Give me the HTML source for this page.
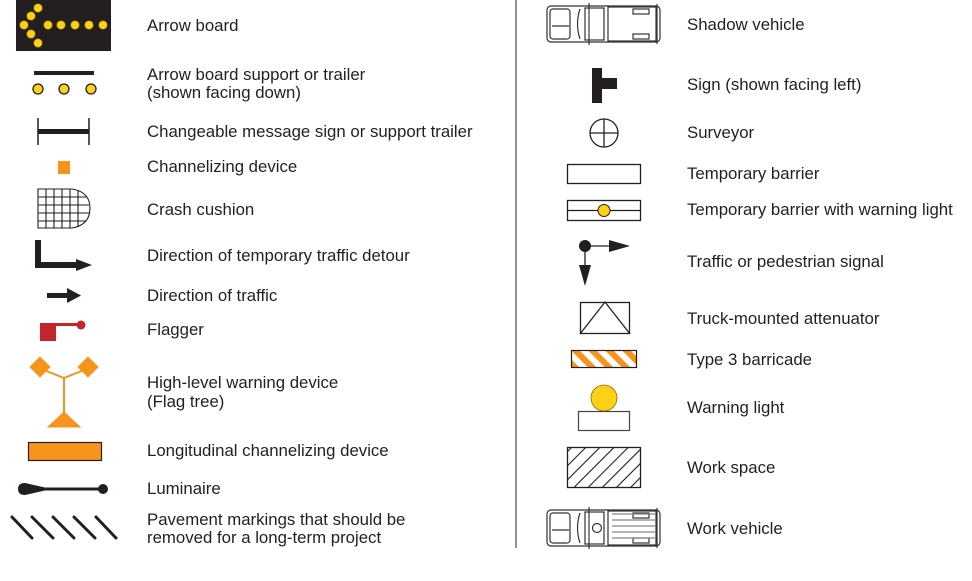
<!DOCTYPE html>
<html><head><meta charset="utf-8"><style>
html,body{margin:0;padding:0;background:#fff;}
svg{display:block;}
text{font-family:"Liberation Sans",Arial,sans-serif;font-size:16.8px;fill:#231f20;}
</style></head><body>
<svg width="972" height="581" viewBox="0 0 972 581" xmlns="http://www.w3.org/2000/svg">
<defs>
<pattern id="hatch" width="10" height="10" patternUnits="userSpaceOnUse" patternTransform="rotate(45)">
<rect width="10" height="10" fill="#fff"/><line x1="0" y1="0" x2="0" y2="10" stroke="#231f20" stroke-width="2.2"/></pattern>
<pattern id="stripe" width="12" height="12" patternUnits="userSpaceOnUse" patternTransform="rotate(-45)">
<rect width="12" height="12" fill="#fff"/><rect width="6" height="12" fill="#f7941d"/></pattern>
<g id="truck" fill="none" stroke="#333" stroke-width="1.2">
<rect x="0" y="3" width="113" height="36" rx="4"/>
<rect x="3" y="6" width="20" height="30" rx="3"/>
<line x1="5" y1="23" x2="22" y2="23"/>
<path d="M33 6 Q28 21 33 36"/>
<rect x="38" y="5" width="19" height="32"/>
<line x1="42" y1="0" x2="42" y2="42"/>
<rect x="61" y="4" width="48" height="34"/>
<rect x="86" y="6" width="16" height="5"/><rect x="86" y="31" width="16" height="5"/>
<line x1="110" y1="1" x2="110" y2="41"/>
</g>
</defs>
<line x1="516" y1="0" x2="516" y2="548" stroke="#555" stroke-width="1.3"/>

<rect x="16" y="0" width="95" height="51" fill="#231f20"/>
<g fill="#fcd116" stroke="#8a6d00" stroke-width="0.6">
<circle cx="38" cy="8" r="4.3"/><circle cx="31" cy="16" r="4.3"/><circle cx="24" cy="25" r="4.3"/><circle cx="31" cy="34" r="4.3"/><circle cx="38" cy="43" r="4.3"/>
<circle cx="48" cy="25" r="4.3"/><circle cx="61" cy="25" r="4.3"/><circle cx="75" cy="25" r="4.3"/><circle cx="89" cy="25" r="4.3"/><circle cx="103" cy="25" r="4.3"/>
</g>
<text x="147" y="31">Arrow board</text>

<rect x="34" y="71" width="60" height="4" fill="#231f20"/>
<g fill="#fcd116" stroke="#231f20" stroke-width="1.3">
<circle cx="38" cy="89" r="5"/><circle cx="64" cy="89" r="5"/><circle cx="91" cy="89" r="5"/></g>
<text x="147" y="80">Arrow board support or trailer</text>
<text x="147" y="98">(shown facing down)</text>

<line x1="38" y1="118" x2="38" y2="145" stroke="#231f20" stroke-width="1.5"/>
<line x1="89" y1="118" x2="89" y2="145" stroke="#231f20" stroke-width="1.5"/>
<rect x="38" y="129" width="51" height="5" fill="#231f20"/>
<text x="147" y="137">Changeable message sign or support trailer</text>

<rect x="58" y="161" width="12" height="13" fill="#f7941d"/>
<text x="147" y="172">Channelizing device</text>

<g fill="none" stroke="#231f20" stroke-width="1.1">
<path d="M38 189 H72 Q90 192 90 208 Q90 225 72 228 H38 Z"/>
<line x1="38" y1="197" x2="86" y2="197"/><line x1="38" y1="205" x2="89" y2="205"/><line x1="38" y1="213" x2="89" y2="213"/><line x1="38" y1="221" x2="86" y2="221"/>
<line x1="46" y1="189" x2="46" y2="228"/><line x1="54" y1="189" x2="54" y2="228"/><line x1="62" y1="189" x2="62" y2="228"/><line x1="70" y1="189" x2="70" y2="228"/><line x1="78" y1="190" x2="78" y2="227"/>
</g>
<text x="147" y="215">Crash cushion</text>

<path d="M35 240 H41 V262 H78 V268 H35 Z" fill="#231f20"/>
<path d="M76 259 L92 265 L76 271 Z" fill="#231f20"/>
<text x="147" y="261">Direction of temporary traffic detour</text>

<rect x="47" y="293" width="24" height="5" fill="#231f20"/>
<path d="M67 288 L81 295.5 L67 303 Z" fill="#231f20"/>
<text x="147" y="301">Direction of traffic</text>

<rect x="40" y="323" width="16" height="18" fill="#c1272d"/>
<rect x="56" y="323" width="22" height="3" fill="#c1272d"/>
<circle cx="81" cy="325" r="4.5" fill="#c1272d"/>
<text x="147" y="335">Flagger</text>

<g fill="#f7941d" stroke="#f7941d">
<rect x="33" y="360" width="14" height="14" transform="rotate(45 40 367)"/>
<rect x="81" y="360" width="14" height="14" transform="rotate(45 88 367)"/>
<polyline points="44,370 64,378 84,370" fill="none" stroke-width="2"/>
<line x1="64" y1="378" x2="64" y2="415" stroke-width="2"/>
<path d="M48 427 L64 412 L80 427 Z"/>
</g>
<text x="147" y="388">High-level warning device</text>
<text x="147" y="407">(Flag tree)</text>

<rect x="28.5" y="442.5" width="73" height="18" fill="#f7941d" stroke="#231f20" stroke-width="1.2"/>
<text x="147" y="456">Longitudinal channelizing device</text>

<path d="M18 489 Q18 483 25 483 L45 487.5 H100 V490.5 H45 L25 495 Q18 495 18 489 Z" fill="#231f20"/>
<circle cx="103" cy="489" r="5" fill="#231f20"/>
<text x="147" y="494">Luminaire</text>

<g stroke="#231f20" stroke-width="3" stroke-linecap="round">
<line x1="12" y1="517" x2="32" y2="538"/><line x1="32" y1="517" x2="53" y2="538"/><line x1="53" y1="517" x2="74" y2="538"/><line x1="74" y1="517" x2="95" y2="538"/><line x1="96" y1="517" x2="116" y2="538"/>
</g>
<text x="147" y="525">Pavement markings that should be</text>
<text x="147" y="543">removed for a long-term project</text>

<use href="#truck" x="547" y="3"/>
<text x="687" y="30">Shadow vehicle</text>

<rect x="592" y="68" width="10" height="35" fill="#231f20"/>
<rect x="602" y="78" width="15" height="11" fill="#231f20"/>
<text x="687" y="90">Sign (shown facing left)</text>

<circle cx="604" cy="133" r="14" fill="none" stroke="#231f20" stroke-width="1.3"/>
<line x1="590" y1="133" x2="618" y2="133" stroke="#231f20" stroke-width="1.3"/>
<line x1="604" y1="119" x2="604" y2="147" stroke="#231f20" stroke-width="1.3"/>
<text x="687" y="138">Surveyor</text>

<rect x="567.5" y="164.5" width="73" height="19" fill="none" stroke="#231f20" stroke-width="1.3"/>
<text x="687" y="179">Temporary barrier</text>

<rect x="567.5" y="200.5" width="73" height="20" fill="none" stroke="#231f20" stroke-width="1.3"/>
<line x1="567" y1="210.5" x2="641" y2="210.5" stroke="#231f20" stroke-width="1.3"/>
<circle cx="604" cy="210.5" r="6" fill="#fcd116" stroke="#231f20" stroke-width="1"/>
<text x="687" y="215">Temporary barrier with warning light</text>

<circle cx="585" cy="246" r="6" fill="#231f20"/>
<line x1="585" y1="246" x2="612" y2="246" stroke="#231f20" stroke-width="1.3"/>
<path d="M609 240 L630 246 L609 252 Z" fill="#231f20"/>
<line x1="585" y1="246" x2="585" y2="268" stroke="#231f20" stroke-width="1.3"/>
<path d="M579 265 L585 286 L591 265 Z" fill="#231f20"/>
<text x="687" y="267">Traffic or pedestrian signal</text>

<rect x="580.5" y="302.5" width="49" height="31" fill="none" stroke="#231f20" stroke-width="1.3"/>
<polyline points="580,334 605,302 630,334" fill="none" stroke="#231f20" stroke-width="1.3"/>
<text x="687" y="324">Truck-mounted attenuator</text>

<rect x="571.5" y="350.5" width="65" height="17" fill="url(#stripe)" stroke="#231f20" stroke-width="1.2"/>
<text x="687" y="365">Type 3 barricade</text>

<circle cx="604" cy="398" r="13" fill="#fcd116" stroke="#8a6d00" stroke-width="0.8"/>
<rect x="578.5" y="411.5" width="51" height="19" fill="none" stroke="#444" stroke-width="1.2"/>
<text x="687" y="413">Warning light</text>

<rect x="567.5" y="447.5" width="73" height="40" fill="url(#hatch)" stroke="#231f20" stroke-width="1.3"/>
<text x="687" y="473">Work space</text>

<use href="#truck" x="547" y="507"/>
<g stroke="#888" stroke-width="1.2">
<line x1="612" y1="514" x2="655" y2="514"/><line x1="612" y1="520" x2="655" y2="520"/><line x1="612" y1="526" x2="655" y2="526"/><line x1="612" y1="532" x2="655" y2="532"/><line x1="612" y1="538" x2="655" y2="538"/></g>
<circle cx="597" cy="528" r="4.5" fill="none" stroke="#333" stroke-width="1.2"/>
<text x="687" y="534">Work vehicle</text>
</svg>
</body></html>
